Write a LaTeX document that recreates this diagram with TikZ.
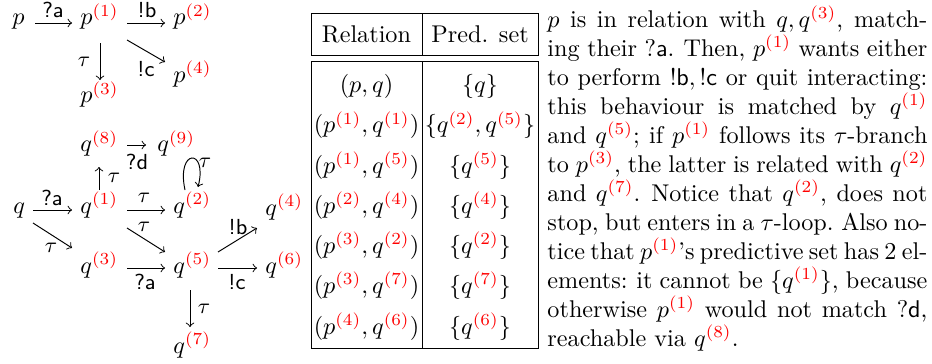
\documentclass[tikz,border=0pt]{standalone}
\usepackage{xcolor}
\newcommand{\sk}[1]{^{\textcolor{red}{(#1)}}}
\newcommand{\txtline}[1]{\hbox to 157pt{#1}}
\begin{document}
\begin{tikzpicture}[x=0.4132pt,y=-0.4132pt,
  st/.style={anchor=base west,inner sep=0pt},
  lab/.style={inner sep=0pt,font=\small},
  arr/.style={->,line width=0.4pt},
  cell/.style={anchor=base,inner sep=0pt},
  rule/.style={line width=0.4pt}]
\useasboundingbox (0,0) rectangle (932,364);
% ---- diagram p
\node[st] (p) at (12,25) {$p$};
\node[st] (p1) at (80,25) {$p\sk{1}$};
\node[st] (p2) at (173,25) {$p\sk{2}$};
\node[st] (p4) at (173,82) {$p\sk{4}$};
\node[st] (p3) at (80,103) {$p\sk{3}$};
\draw[arr] ([shift={(23,-2)}]p.base west) -- ([shift={(-8,-2)}]p1.base west);
\draw[arr] ([shift={(47,-2)}]p1.base west) -- ([shift={(-8,-2)}]p2.base west);
\draw[arr] ([shift={(47,15)}]p1.base west) -- ([shift={(-8,-20)}]p4.base west);
\draw[arr] ([shift={(20,18)}]p1.base west) -- ([shift={(20,-23)}]p3.base west);
\node[lab] (l1) at (53,10) {\textsf{?a}};
\node[lab] (l2) at (147,10) {\textsf{!b}};
\node[lab] (l3) at (146,69) {\textsf{!c}};
\node[lab] (l4) at (84,62) {$\tau$};
% ---- diagram q
\node[st] (q) at (13,213) {$q$};
\node[st] (q1) at (80,213) {$q\sk{1}$};
\node[st] (q2) at (173,213) {$q\sk{2}$};
\node[st] (q4) at (265,215) {$q\sk{4}$};
\node[st] (q3) at (80,273) {$q\sk{3}$};
\node[st] (q5) at (173,273) {$q\sk{5}$};
\node[st] (q6) at (265,273) {$q\sk{6}$};
\node[st] (q7) at (173,353) {$q\sk{7}$};
\node[st] (q8) at (80,152) {$q\sk{8}$};
\node[st] (q9) at (157,152) {$q\sk{9}$};
\draw[arr] ([shift={(20,-3)}]q.base west) -- ([shift={(-8,-3)}]q1.base west);
\draw[arr] ([shift={(20,10)}]q.base west) -- ([shift={(-8,-25)}]q3.base west);
\draw[arr] ([shift={(47,-3)}]q1.base west) -- ([shift={(-8,-3)}]q2.base west);
\draw[arr] ([shift={(47,15)}]q1.base west) -- ([shift={(-8,-21)}]q5.base west);
\draw[arr] ([shift={(47,-5)}]q3.base west) -- ([shift={(-8,-5)}]q5.base west);
\draw[arr] ([shift={(45,-21)}]q5.base west) -- ([shift={(-8,13)}]q4.base west);
\draw[arr] ([shift={(45,-5)}]q5.base west) -- ([shift={(-8,-5)}]q6.base west);
\draw[arr] ([shift={(17,17)}]q5.base west) -- ([shift={(17,-26)}]q7.base west);
\draw[arr] ([shift={(19,-23)}]q1.base west) -- ([shift={(19,15)}]q8.base west);
\draw[arr] ([shift={(47,-7)}]q8.base west) -- ([shift={(-11,-7)}]q9.base west);
\draw[arr] ([shift={(12,-23)}]q2.base west) .. controls (176,148) and (208,148) .. ([shift={(25,-26)}]q2.base west);
\node[lab] (m1) at (52,198) {\textsf{?a}};
\node[lab] (m2) at (51,248) {$\tau$};
\node[lab] (m3) at (144,198) {$\tau$};
\node[lab] (m4) at (144,227) {$\tau$};
\node[lab] (m5) at (145,282) {\textsf{?a}};
\node[lab] (m6) at (238,227) {\textsf{!b}};
\node[lab] (m7) at (237,282) {\textsf{!c}};
\node[lab] (m8) at (204,309) {$\tau$};
\node[lab] (m9) at (114,178) {$\tau$};
\node[lab] (m10) at (137,162) {\textsf{?d}};
\node[lab] (m11) at (205,163) {$\tau$};
% ---- table
\draw[rule] (311,13) rectangle (538,55);
\draw[rule] (311,61) rectangle (538,348);
\draw[rule] (422,13) -- (422,55);
\draw[rule] (422,61) -- (422,348);
\node[cell] (h1) at (366.5,43) {Relation};
\node[cell] (h2) at (480,43) {Pred. set};
\node[cell] (a1) at (366.5,92.7) {$(p,q)$};
\node[cell] (b1) at (480,92.7) {$\{q\}$};
\node[cell] (a2) at (366.5,132.9) {$(p\sk{1},q\sk{1})$};
\node[cell] (b2) at (480,132.9) {$\{q\sk{2},q\sk{5}\}$};
\node[cell] (a3) at (366.5,173.1) {$(p\sk{1},q\sk{5})$};
\node[cell] (b3) at (480,173.1) {$\{q\sk{5}\}$};
\node[cell] (a4) at (366.5,213.3) {$(p\sk{2},q\sk{4})$};
\node[cell] (b4) at (480,213.3) {$\{q\sk{4}\}$};
\node[cell] (a5) at (366.5,253.5) {$(p\sk{3},q\sk{2})$};
\node[cell] (b5) at (480,253.5) {$\{q\sk{2}\}$};
\node[cell] (a6) at (366.5,293.7) {$(p\sk{3},q\sk{7})$};
\node[cell] (b6) at (480,293.7) {$\{q\sk{7}\}$};
\node[cell] (a7) at (366.5,334) {$(p\sk{4},q\sk{6})$};
\node[cell] (b7) at (480,334) {$\{q\sk{6}\}$};
% ---- text
\node[anchor=base west,inner sep=0pt,text width=157pt] (txt) at (547,27) {%
\spaceskip=3.33pt plus 3pt minus 2pt\xspaceskip=4pt plus 3pt minus 2pt%
\txtline{$p$ is in relation with $q,q\sk{3}$, match-}
\txtline{ing their ?\textsf{a}. Then, $p\sk{1}$ wants either}
\txtline{to perform $!\mathsf{b},!\mathsf{c}$ or quit interacting:}
\txtline{this behaviour is matched by $q\sk{1}$}
\txtline{and $q\sk{5}$; if $p\sk{1}$ follows its $\tau$-branch}
\txtline{to $p\sk{3}$, the latter is related with $q\sk{2}$}
\txtline{and $q\sk{7}$. Notice that $q\sk{2}$, does not}
\txtline{stop, but enters in a $\tau$-loop. Also no-}
\txtline{tice that $p\sk{1}$'s predictive set has 2 el-}
\txtline{ements: it cannot be $\{q\sk{1}\}$, because}
\txtline{otherwise $p\sk{1}$ would not match ?\textsf{d},}
\hbox{reachable via $q\sk{8}$.}};
\end{tikzpicture}
\end{document}
